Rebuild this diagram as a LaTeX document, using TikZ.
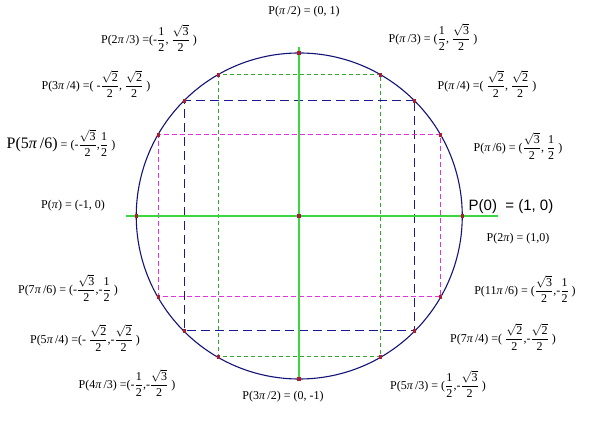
\documentclass[tikz,border=0pt]{standalone}
\usepackage{amsmath}
\usepackage{fontspec}
\setmainfont{Liberation Serif}
\newfontfamily\sansf{Liberation Sans}
\newcommand\fr[2]{$\genfrac{}{}{0.45pt}{0}{\text{#1}}{\text{#2}}$}
\newcommand\sq[1]{$\sqrt{\text{#1}}$}
\newcommand\ppi{\textit{π}}
\definecolor{navyc}{RGB}{20,20,120}
\definecolor{axisc}{RGB}{60,215,60}
\definecolor{gdashc}{RGB}{50,170,50}
\definecolor{bdashc}{RGB}{25,25,150}
\definecolor{mdashc}{RGB}{225,50,225}
\definecolor{dotc}{RGB}{170,30,50}
\tikzset{
  lbl/.style={inner sep=0pt, font=\fontsize{12}{14}\selectfont},
  greendash/.style={draw=gdashc, line width=1pt, dash pattern=on 4pt off 3pt},
  bluedash/.style={draw=bdashc, line width=1pt, dash pattern=on 9pt off 5pt},
  magdash/.style={draw=mdashc, line width=1pt, dash pattern=on 5pt off 3pt},
  axisline/.style={draw=axisc, line width=1.4pt},
  circ/.style={draw=navyc, line width=1.1pt},
  dotn/.style={rectangle, fill=dotc, inner sep=0pt, minimum size=3.5pt}
}
\begin{document}
\begin{tikzpicture}[x=1pt,y=1pt]
\useasboundingbox[fill=white] (0,0) rectangle (596,422);
\coordinate (O) at (299.25,206);
\coordinate (p0) at (462.5,206);
\coordinate (p180) at (136.5,206);
\coordinate (p90) at (299,369);
\coordinate (p270) at (299,43);
\coordinate (p60) at (380.5,347);
\coordinate (p120) at (218.5,347);
\coordinate (p240) at (218.5,65);
\coordinate (p300) at (380.5,65);
\coordinate (p45) at (414.5,321);
\coordinate (p135) at (184.5,321);
\coordinate (p225) at (184.5,91);
\coordinate (p315) at (414.5,91);
\coordinate (p30) at (440.5,287);
\coordinate (p150) at (158.5,287);
\coordinate (p210) at (158.5,125);
\coordinate (p330) at (440.5,125);
\draw[greendash] (p60) -- (p120) -- (p240) -- (p300) -- cycle;
\draw[bluedash] (p45) -- (p135) -- (p225) -- (p315) -- cycle;
\draw[magdash] (p30) -- (p150) -- (p210) -- (p330) -- cycle;
\coordinate (hl) at (126,206);
\coordinate (hr) at (498,206);
\coordinate (vt) at (299,375);
\coordinate (vb) at (299,43);
\draw[axisline] (hl) -- (hr);
\draw[axisline] (vt) -- (vb);
\draw[circ] (O) circle[radius=163];
\foreach \a in {0,30,45,60,90,120,135,150,180,210,225,240,270,300,315,330}{
  \node[dotn] (d\a) at (p\a) {};
}
\node[dotn] (dO) at (299,206) {};
\node[lbl] (l90) at (304,410) {P(\ppi\,/2) = (0, 1)};
\node[lbl] (l120) at (149,384) {P(2\ppi\,/3) =(-\fr{1}{2}, \fr{\sq{3}}{2} )};
\node[lbl] (l135) at (96,338) {P(3\ppi\,/4) =( -\fr{\sq{2}}{2}, \fr{\sq{2}}{2} )};
\node[lbl] (l60) at (433,385) {P(\ppi\,/3) = (\fr{1}{2}, \fr{\sq{3}}{2} )};
\node[lbl] (l45) at (487,338) {P(\ppi\,/4) =( \fr{\sq{2}}{2}, \fr{\sq{2}}{2} )};
\node[lbl] (l150) at (61,279) {{\fontsize{16}{18}\selectfont P(5\ppi\,/6)} = (-\fr{\sq{3}}{2},\fr{1}{2} )};
\node[lbl] (l180) at (73,216) {P(\ppi) = (-1, 0)};
\node[lbl] (l30) at (518,276) {P(\ppi\,/6) = (\fr{\sq{3}}{2}, \fr{1}{2} )};
\node[lbl, font=\sansf\fontsize{15}{18}\selectfont] (l0) at (511,215) {P(0)\ \ = (1, 0)};
\node[lbl] (l360) at (518,183) {P(2\ppi) = (1,0)};
\node[lbl] (l210) at (68,134) {P(7\ppi\,/6) = (-\fr{\sq{3}}{2},-\fr{1}{2} )};
\node[lbl] (l225) at (85,84) {P(5\ppi\,/4) =(- \fr{\sq{2}}{2},-\fr{\sq{2}}{2} )};
\node[lbl] (l240) at (127,39) {P(4\ppi\,/3) =(-\fr{1}{2},-\fr{\sq{3}}{2} )};
\node[lbl] (l270) at (283,25) {P(3\ppi\,/2) = (0, -1)};
\node[lbl] (l330) at (525,133) {P(11\ppi\,/6) = (\fr{\sq{3}}{2},-\fr{1}{2} )};
\node[lbl] (l315) at (503,85) {P(7\ppi\,/4) =( \fr{\sq{2}}{2},-\fr{\sq{2}}{2} )};
\node[lbl] (l300) at (438,38) {P(5\ppi\,/3) = (\fr{1}{2},-\fr{\sq{3}}{2} )};
\end{tikzpicture}
\end{document}
